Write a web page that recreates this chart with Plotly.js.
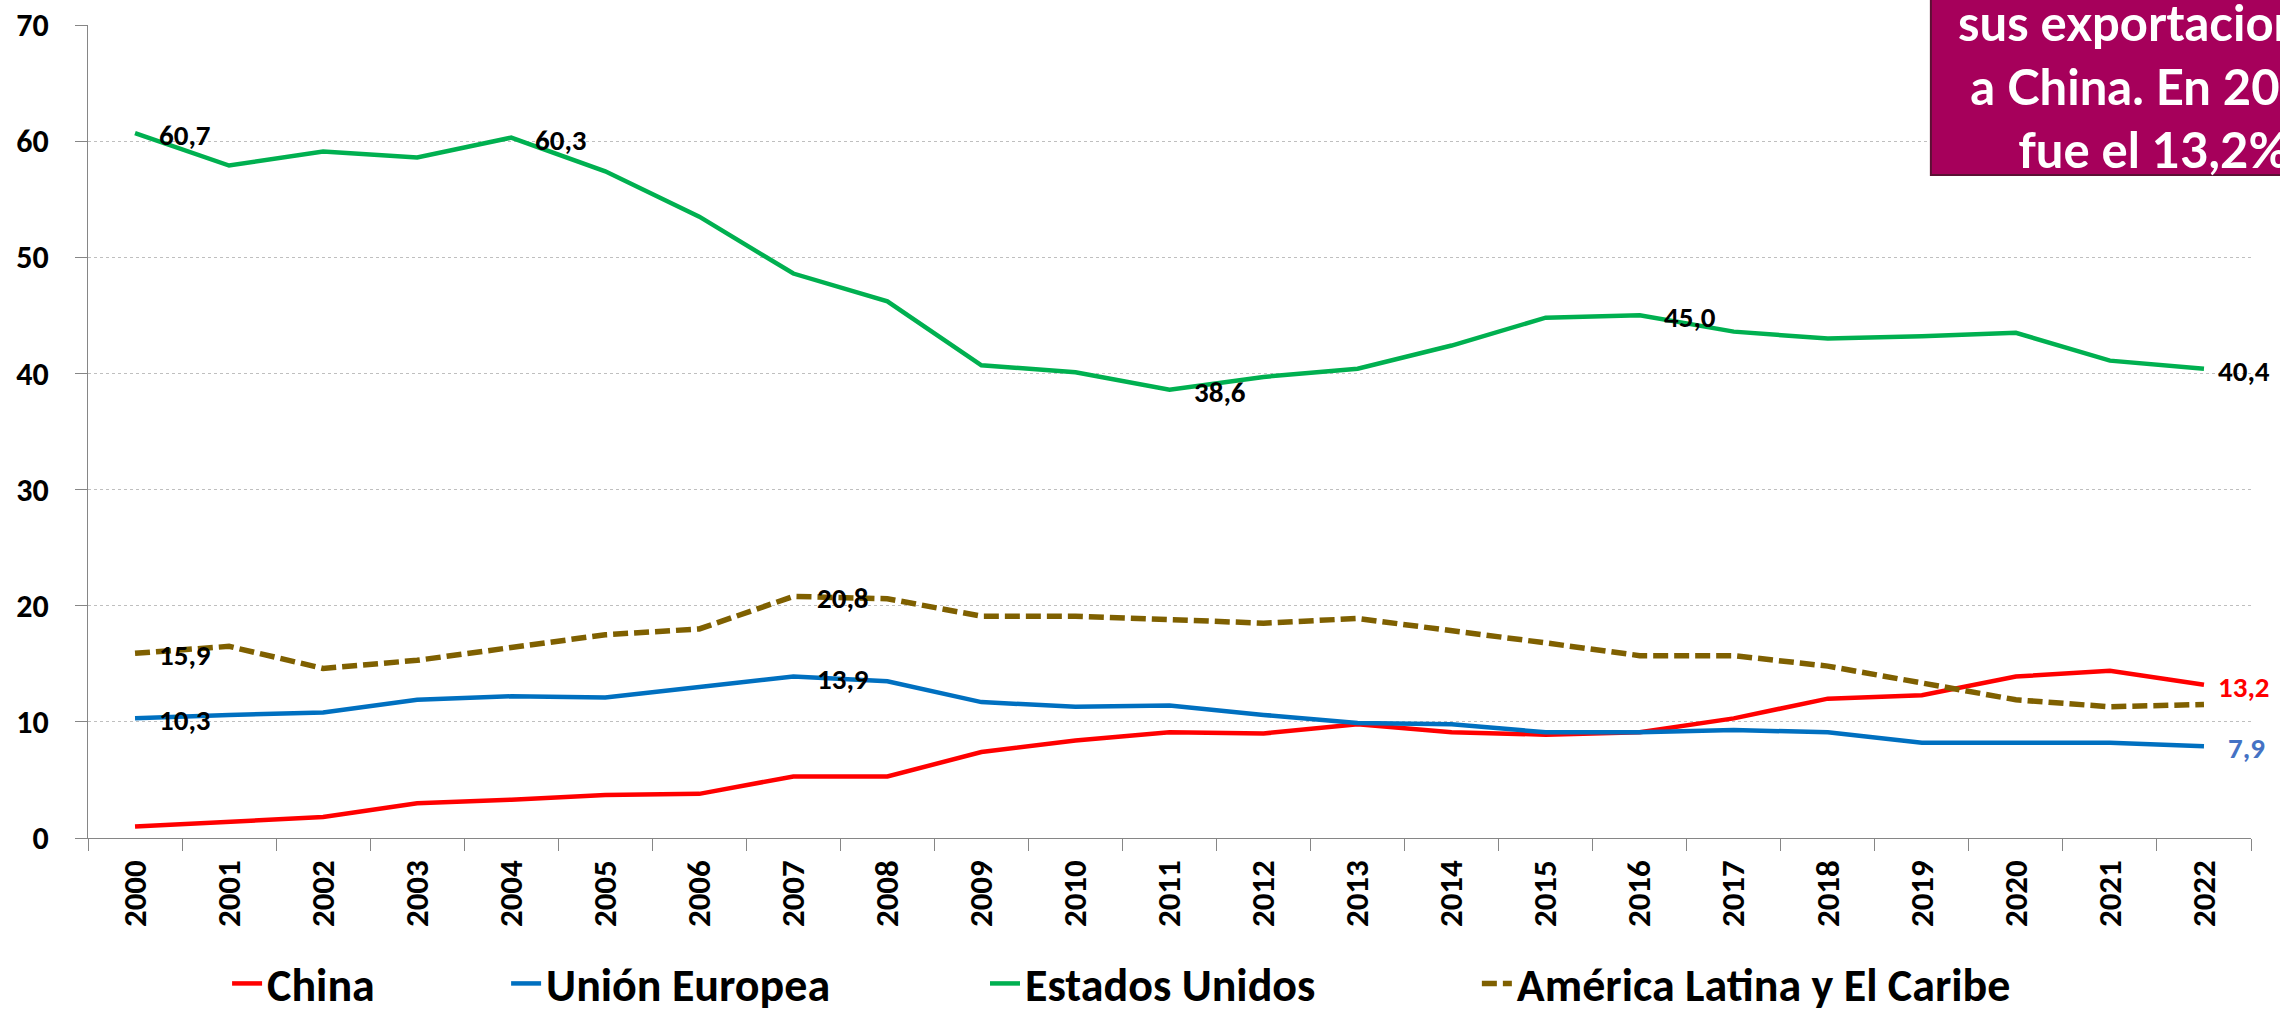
<!DOCTYPE html>
<html><head><meta charset="utf-8">
<script src="https://cdn.plot.ly/plotly-3.0.1.min.js"></script>
<style>html,body{margin:0;padding:0;overflow:hidden;background:#fff}#chart{width:2280px;height:1019px}</style>
</head><body><div id="chart"></div>
<script>
const years = ['2000','2001','2002','2003','2004','2005','2006','2007','2008','2009','2010','2011','2012','2013','2014','2015','2016','2017','2018','2019','2020','2021','2022'];
const china = [1.0,1.4,1.8,3.0,3.3,3.7,3.8,5.3,5.3,7.4,8.4,9.1,9.0,9.8,9.1,8.9,9.1,10.3,12.0,12.3,13.9,14.4,13.2];
const ue    = [10.3,10.6,10.8,11.9,12.2,12.1,13.0,13.9,13.5,11.7,11.3,11.4,10.6,9.9,9.8,9.1,9.1,9.3,9.1,8.2,8.2,8.2,7.9];
const eeuu  = [60.7,57.9,59.1,58.6,60.3,57.4,53.5,48.6,46.2,40.7,40.1,38.6,39.7,40.4,42.4,44.8,45.0,43.6,43.0,43.2,43.5,41.1,40.4];
const alc   = [15.9,16.5,14.6,15.3,16.4,17.5,18.0,20.8,20.6,19.1,19.1,18.8,18.5,18.9,17.9,16.8,15.7,15.7,14.8,13.4,11.9,11.3,11.5];
const seriesNames = ['China','Unión Europea','Estados Unidos','América Latina y El Caribe'];
const labelIdx = {china:[22], ue:[0,7,22], eeuu:[0,4,11,16,22], alc:[0,7]};
const boxLines = ['sus exportaciones','a China. En 2022','fue el 13,2%'];

const FONT = 'Calibri, Carlito, Lato, sans-serif';
const colors = {china:'#FF0000', ue:'#0070C0', eeuu:'#00B050', alc:'#7F6000'};
const dataMap = {china, ue, eeuu, alc};
const keys = ['china','ue','eeuu','alc'];
const legendX = [0.0643, 0.1933, 0.4147, 0.6421];

const traces = keys.map((k,i)=>({
  type:'scatter', mode:'lines', x:years, y:dataMap[k], name:seriesNames[i],
  line:{color:colors[k], width:k==='alc'?5.5:4.5, dash:k==='alc'?'15px,6px':'solid'},
  legend: i===0?'legend':'legend'+(i+1), hoverinfo:'skip'
}));

const fmt = v => v.toFixed(1).replace('.', ',');
const annotations = [];
keys.forEach(k=>{
  labelIdx[k].forEach(idx=>{
    let col = '#000';
    if (k==='china') col = '#FF0000';
    if (k==='ue' && idx===22) col = '#4472C4';
    const last = idx===22 && (k==='eeuu' || k==='china');
    annotations.push({x:idx, y:dataMap[k][idx], xref:'x', yref:'y', text:fmt(dataMap[k][idx]),
      showarrow:false, xanchor:'left', yanchor:'middle', xshift: last?12:22, yshift:-2,
      font:{family:FONT, size:29, weight:'bold', color:col}});
  });
});
annotations.push({xref:'paper', yref:'paper', x:0.955, y:0.926, xanchor:'center', yanchor:'middle',
  text:boxLines.join('<br>'), showarrow:false, align:'center',
  font:{family:'Lato, sans-serif', size:49, weight:'bold', color:'#FFFFFF'}});

const shapes = [{type:'rect', xref:'paper', yref:'paper', x0:0.852, x1:1.3, y0:0.8155, y1:1.2,
  fillcolor:'#A6005B', line:{color:'#5C1034', width:2}, layer:'above'}];

const legendBase = (x)=>({orientation:'h', x:x, y:-0.179, xanchor:'left', yanchor:'middle', bgcolor:'rgba(0,0,0,0)',
  font:{family:FONT, size:46, weight:'bold', color:'#000'}});

const layout = {
  width:2280, height:1019, paper_bgcolor:'#fff', plot_bgcolor:'#fff',
  margin:{l:88, r:29, t:25, b:181, autoexpand:false},
  xaxis:{type:'category', range:[-0.5,22.5], showline:true, linecolor:'#868686', linewidth:1, showgrid:false,
    ticks:'outside', ticklen:12, tickcolor:'#868686', tickson:'boundaries', tickangle:-90, ticklabelstandoff:8,
    tickfont:{family:FONT, size:33, weight:'bold', color:'#000'}, zeroline:false, automargin:false},
  yaxis:{range:[0,70], dtick:10, showline:true, linecolor:'#868686', linewidth:1, showgrid:true, gridcolor:'#BFBFBF', griddash:'dot', gridwidth:1,
    ticks:'outside', ticklen:12, tickcolor:'#868686', ticklabelstandoff:20, zeroline:false, automargin:false,
    tickfont:{family:FONT, size:32, weight:'bold', color:'#000'}},
  showlegend:true,
  legend:legendBase(legendX[0]), legend2:legendBase(legendX[1]), legend3:legendBase(legendX[2]), legend4:legendBase(legendX[3]),
  shapes, annotations
};
Plotly.newPlot('chart', traces, layout, {displayModeBar:false, staticPlot:true});
</script></body></html>
